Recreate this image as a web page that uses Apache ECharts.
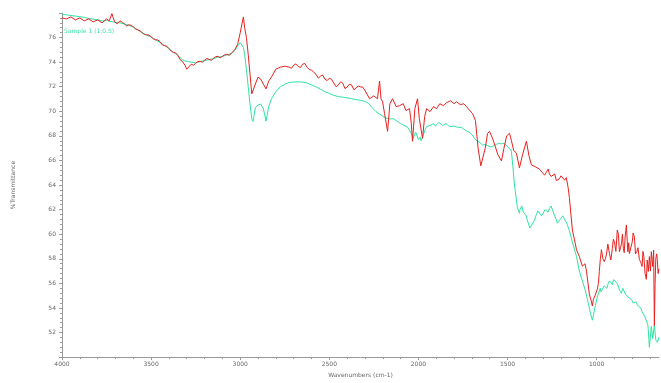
<!DOCTYPE html>
<html>
<head>
<meta charset="utf-8">
<script src="https://cdn.jsdelivr.net/npm/echarts@6/dist/echarts.min.js"></script>
<style>html,body{margin:0;padding:0;background:#fff;}#c{width:661px;height:383px;}</style>
</head>
<body>
<div id="c"></div>
<script>
const xTickLabels = [4000, 3500, 3000, 2500, 2000, 1500, 1000];
const xMinorTicks = [3900,3800,3700,3600,3400,3300,3200,3100,2900,2800,2700,2600,2400,2300,2200,2100,1900,1800,1700,1600,1400,1300,1200,1100,900,800,700];
const yTickLabels = [52, 54, 56, 58, 60, 62, 64, 66, 68, 70, 72, 74, 76];

const redWn = [4000,3975,3950,3925,3900,3875,3850,3825,3800,3775,3750,3735,3720,3705,3690,3675,3650,3625,3600,3575,3550,3525,3500,3475,3450,3425,3400,3375,3350,3325,3310,3300,3290,3275,3250,3225,3200,3175,3150,3125,3100,3075,3050,3030,3015,3000,2990,2982,2975,2965,2955,2945,2935,2928,2915,2900,2885,2870,2855,2840,2825,2800,2775,2750,2725,2700,2675,2650,2625,2600,2575,2550,2525,2500,2475,2450,2425,2400,2375,2350,2325,2313,2290,2274,2250,2230,2218,2210,2201,2190,2173,2160,2145,2125,2106,2085,2070,2050,2040,2033,2020,2005,1995,1977,1965,1954,1935,1915,1898,1880,1860,1842,1820,1800,1786,1765,1745,1730,1710,1696,1680,1665,1650,1640,1625,1612,1601,1584,1570,1555,1534,1520,1505,1489,1478,1465,1450,1433,1415,1394,1380,1366,1345,1321,1304,1280,1265,1245,1226,1209,1190,1170,1160,1153,1136,1125,1113,1097,1080,1065,1057,1050,1041,1030,1024,1010,996,985,973,965,957,945,928,912,900,884,872,861,850,840,833,825,816,800,788,775,760,745,735,721,710,704,693,685,676,668,659,650];
const redT = [77.6,77.52,77.68,77.44,77.6,77.36,77.52,77.28,77.44,77.2,77.52,77.36,77.95,77.28,77.12,77.36,77.12,77.04,76.88,76.64,76.39,76.23,76.07,75.83,75.67,75.35,75.11,74.79,74.55,74.07,73.75,73.43,73.59,73.83,73.91,74.07,74.15,74.23,74.31,74.47,74.47,74.63,74.71,75.03,75.43,76.39,77.12,77.68,76.8,75.99,74.63,73.02,71.42,71.26,72.22,72.78,72.62,72.22,71.82,72.46,72.78,73.43,73.59,73.67,73.59,73.75,73.67,73.83,73.59,73.35,73.02,72.86,72.62,72.7,72.3,72.14,72.3,71.98,72.14,71.9,71.98,71.98,71.58,71.02,71.26,71.02,72.46,71.02,70.78,69.81,68.37,70.62,71.02,70.38,70.46,70.62,70.06,70.22,69.01,67.57,70.22,71.02,69.41,67.81,69.57,70.22,69.97,70.38,70.22,70.62,70.46,70.7,70.86,70.62,70.78,70.54,70.62,70.38,70.06,69.81,69.25,67.0,65.56,65.4,67.0,68.2,68.37,67.8,67.2,66.5,65.96,67.0,68.0,68.21,67.6,66.8,66.6,65.4,66.5,67.57,66.4,65.64,65.5,65.3,65.0,65.1,64.9,64.7,64.36,64.5,64.68,64.6,63.8,62.99,60.34,59.6,58.74,58.18,57.4,57.6,57.0,56.2,55.13,54.56,54.16,54.97,55.53,56.97,58.74,58.02,57.77,58.34,58.42,58.82,59.38,60.34,58.58,59.22,58.82,59.78,60.75,58.58,58.42,59.38,59.78,58.58,57.94,57.37,58.18,56.33,56.97,58.18,58.58,57.37,52.56,58.02,57.85,57.2];
// finer noise read between the main points
const redWnFine = [3662,3637,3612,3587,3562,3537,3512,3487,3462,3437,3412,3387,3362,3337,3262,3237,3212,3187,3162,3137,3112,3087,3062,2712,2688,2662,2638,2612,2588,2562,2537,2512,2487,2462,2437,2412,2387,2362,2337,2300,1812,1792,1775,1755,1738,1720,1292,1272,1255,1235,1218,1200,1180,1018,1004,990,979,951,937,920,906,892,878,866,855,845,820,808,795,782,768,752,740,728,716,698,680,672,663,655];
const redTFine = [77.25,76.95,77.0,76.7,76.55,76.25,76.2,75.9,75.8,75.4,75.3,74.9,74.75,74.2,73.75,74.05,74.0,74.3,74.15,74.45,74.35,74.6,74.55,73.5,73.85,73.55,73.9,73.4,73.2,72.7,72.95,72.5,72.6,72.0,72.4,71.85,72.2,71.75,72.05,71.7,70.95,70.5,70.9,70.45,70.7,70.2,64.8,65.3,64.7,64.9,64.3,64.75,64.4,54.7,55.2,56.0,58.0,58.0,59.2,57.9,59.6,58.6,60.0,58.9,60.0,58.5,59.3,58.5,60.1,58.4,58.9,57.7,58.6,56.8,57.9,57.0,58.7,56.0,58.4,56.8];

const greenWn = [4000,3975,3950,3925,3900,3875,3850,3825,3800,3775,3750,3725,3700,3675,3650,3625,3600,3575,3550,3525,3500,3475,3450,3425,3400,3375,3350,3325,3310,3300,3290,3275,3250,3225,3200,3175,3150,3125,3100,3075,3050,3030,3015,3000,2990,2982,2975,2965,2955,2945,2935,2928,2915,2900,2885,2870,2855,2840,2825,2800,2775,2750,2725,2700,2675,2650,2625,2600,2575,2550,2525,2500,2475,2450,2425,2400,2375,2350,2325,2300,2280,2260,2240,2220,2200,2180,2160,2140,2120,2100,2080,2060,2040,2030,2015,2000,1985,1970,1955,1935,1915,1895,1875,1855,1835,1815,1800,1780,1760,1745,1730,1715,1700,1685,1670,1655,1640,1625,1610,1595,1580,1565,1550,1535,1520,1505,1490,1478,1470,1461,1445,1433,1420,1405,1390,1375,1366,1350,1338,1320,1300,1282,1265,1248,1235,1220,1200,1181,1165,1153,1135,1113,1097,1080,1065,1050,1035,1024,1010,996,980,965,950,935,920,905,884,870,861,845,830,816,800,788,770,760,745,730,721,712,704,693,685,676,668,659,650];
const greenT = [77.9,77.85,77.8,77.75,77.7,77.65,77.55,77.5,77.45,77.35,77.4,77.3,77.25,77.2,77.1,77.0,76.85,76.62,76.4,76.2,76.05,75.8,75.62,75.35,75.1,74.82,74.55,74.2,74.1,74.07,74.05,74.0,73.95,74.05,74.12,74.2,74.28,74.42,74.45,74.6,74.7,74.95,75.3,75.6,75.5,75.2,74.6,73.4,72.0,70.6,69.4,69.17,70.3,70.5,70.6,70.2,69.2,70.4,71.0,71.6,72.0,72.2,72.35,72.38,72.4,72.38,72.3,72.15,72.0,71.8,71.6,71.45,71.3,71.2,71.15,71.1,71.02,70.95,70.9,70.8,70.65,70.3,70.0,69.8,69.6,69.45,69.38,69.4,69.2,69.0,68.85,68.7,68.2,67.8,68.3,67.7,67.6,68.2,68.75,68.85,69.0,68.95,69.05,68.95,68.9,68.85,68.8,68.7,68.7,68.55,68.4,68.3,68.1,67.8,67.57,67.45,67.25,67.3,67.2,67.1,67.17,67.3,67.4,67.35,67.4,67.2,67.0,66.76,65.5,64.0,62.2,61.7,62.3,61.9,61.2,60.5,60.4,61.1,61.6,61.8,61.7,61.95,62.1,62.2,61.5,60.9,61.3,61.4,60.8,60.3,59.3,58.2,57.0,56.2,55.5,54.6,53.6,53.0,54.0,54.9,55.6,55.3,55.7,56.0,56.2,56.3,56.0,55.4,55.2,55.5,55.0,54.8,54.6,54.3,54.2,54.15,53.7,53.3,53.36,52.6,50.8,52.5,51.5,52.6,51.4,51.2,51.6];
const greenWnFine = [1990,1962,1905,1885,1865,1845,1825,1430,1412,1398,1330,1310,1290,1272,1256,1210,1190,1172,975,958,942,928,912,895,877,853,838,808,795,779,752,738];
const greenTFine = [67.9,68.5,68.8,69.1,68.85,69.0,68.75,62.0,61.8,61.6,61.9,61.5,62.0,61.8,62.3,61.0,61.5,61.0,55.3,55.8,55.6,56.2,55.9,56.4,55.7,55.6,55.1,54.9,54.4,54.5,54.0,53.6];

const labelGreen = 'Sample 1 (1:0.5)';

const zip = (a, b) => a.map((v, i) => [v, b[i]]);
const merged = (wa, ta, wb, tb) => zip(wa, ta).concat(zip(wb, tb)).sort((p, q) => q[0] - p[0]);
const chart = echarts.init(document.getElementById('c'), null, {renderer: 'canvas'});
const axisGrey = '#9a9a9a';
const labelStyle = {fontSize: 6, color: '#666', fontFamily: 'DejaVu Sans'};
chart.setOption({
  animation: false,
  backgroundColor: '#fff',
  grid: {left: 62, right: 2, top: 13, bottom: 21, containLabel: false},
  xAxis: [{
    type: 'value', min: 650, max: 4000, inverse: true,
    name: 'Wavenumbers (cm-1)', nameLocation: 'middle', nameGap: 14,
    nameTextStyle: {fontSize: 6, color: '#666', fontFamily: 'DejaVu Sans'},
    axisLine: {show: true, lineStyle: {color: axisGrey, width: 1}},
    axisTick: {show: true, length: 3, customValues: xTickLabels, lineStyle: {color: axisGrey}},
    axisLabel: {show: true, customValues: xTickLabels, margin: 4, formatter: v => String(v), ...labelStyle},
    splitLine: {show: false}
  }, {
    type: 'value', min: 650, max: 4000, inverse: true, position: 'bottom',
    axisLine: {show: false},
    axisTick: {show: true, length: 2, customValues: xMinorTicks, lineStyle: {color: axisGrey}},
    axisLabel: {show: false},
    splitLine: {show: false}
  }],
  yAxis: {
    type: 'value', min: 50, max: 78, interval: 2,
    name: '%Transmittance', nameLocation: 'middle', nameGap: 46, nameRotate: 90,
    nameTextStyle: {fontSize: 6, color: '#666', fontFamily: 'DejaVu Sans'},
    axisLine: {show: true, lineStyle: {color: axisGrey, width: 1}},
    axisTick: {show: true, length: 3, lineStyle: {color: axisGrey}},
    minorTick: {show: true, splitNumber: 5, length: 2, lineStyle: {color: axisGrey}},
    axisLabel: {show: true, margin: 6, showMinLabel: false, showMaxLabel: false, formatter: v => String(v), ...labelStyle},
    splitLine: {show: false}
  },
  graphic: [{
    type: 'text', left: 64, top: 28,
    style: {text: labelGreen, fontSize: 6, fill: '#3de8a6', fontFamily: 'DejaVu Sans'}
  }],
  series: [{
    type: 'line', xAxisIndex: 0, data: merged(greenWn, greenT, greenWnFine, greenTFine), showSymbol: false,
    lineStyle: {color: '#2fe3a0', width: 1}, clip: true
  }, {
    type: 'line', xAxisIndex: 0, data: merged(redWn, redT, redWnFine, redTFine), showSymbol: false,
    lineStyle: {color: '#e8201e', width: 1}, clip: true
  }]
});
</script>
</body>
</html>
